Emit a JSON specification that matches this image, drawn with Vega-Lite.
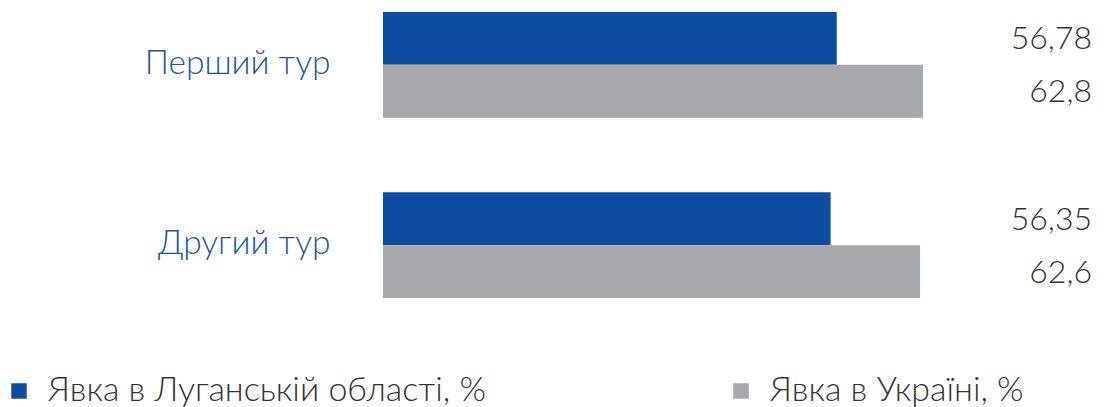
{
  "$schema": "https://vega.github.io/schema/vega-lite/v6.json",
  "width": 709,
  "height": 310,
  "autosize": {"type": "none"},
  "padding": {"left": 383, "right": 14, "top": 0, "bottom": 97},
  "background": "white",
  "config": {
    "view": {"stroke": null},
    "font": "Lato"
  },
  "data": {
    "values": [
      {"tur": "Перший тур", "series": "Явка в Луганській області, %", "value": 56.78, "label": "56,78"},
      {"tur": "Перший тур", "series": "Явка в Україні, %", "value": 62.8, "label": "62,8"},
      {"tur": "Другий тур", "series": "Явка в Луганській області, %", "value": 56.35, "label": "56,35"},
      {"tur": "Другий тур", "series": "Явка в Україні, %", "value": 62.6, "label": "62,6"}
    ]
  },
  "encoding": {
    "y": {
      "field": "tur",
      "type": "nominal",
      "sort": ["Перший тур", "Другий тур"],
      "scale": {"paddingInner": 0.414, "paddingOuter": 0.0667},
      "axis": {
        "title": null,
        "ticks": false,
        "tickSize": 0,
        "domain": false,
        "labelPadding": 53,
        "labelFont": "Lato",
        "labelFontSize": 33.5,
        "labelFontWeight": 300,
        "labelColor": "#1C55A6",
        "labelLimit": 400,
        "labelOffset": -1
      }
    },
    "yOffset": {
      "field": "series",
      "type": "nominal",
      "sort": ["Явка в Луганській області, %", "Явка в Україні, %"],
      "scale": {"paddingInner": 0, "paddingOuter": 0}
    }
  },
  "layer": [
    {
      "mark": {"type": "bar", "clip": true},
      "encoding": {
        "x": {
          "field": "value",
          "type": "quantitative",
          "scale": {"domain": [25.1, 74.6], "zero": false, "nice": false},
          "axis": null
        },
        "x2": {"datum": 25.1},
        "color": {
          "field": "series",
          "type": "nominal",
          "sort": ["Явка в Луганській області, %", "Явка в Україні, %"],
          "scale": {"range": ["#0D4EA2", "#A7A8AC"]},
          "legend": {
            "title": null,
            "orient": "none",
            "legendX": -381,
            "legendY": 374,
            "direction": "horizontal",
            "columns": 2,
            "columnPadding": 238,
            "symbolType": "square",
            "symbolSize": 240,
            "symbolStrokeWidth": 0,
            "labelFont": "Lato",
            "labelFontSize": 34,
            "labelFontWeight": 300,
            "labelColor": "#333333",
            "labelLimit": 600,
            "labelOffset": 12
          }
        }
      }
    },
    {
      "mark": {
        "type": "text",
        "align": "right",
        "baseline": "middle",
        "dx": 0,
        "dy": 1,
        "font": "Lato",
        "fontSize": 32,
        "fontWeight": 300,
        "color": "#333333"
      },
      "encoding": {
        "x": {"datum": 74.6, "type": "quantitative"},
        "text": {"field": "label", "type": "nominal"}
      }
    }
  ]
}
